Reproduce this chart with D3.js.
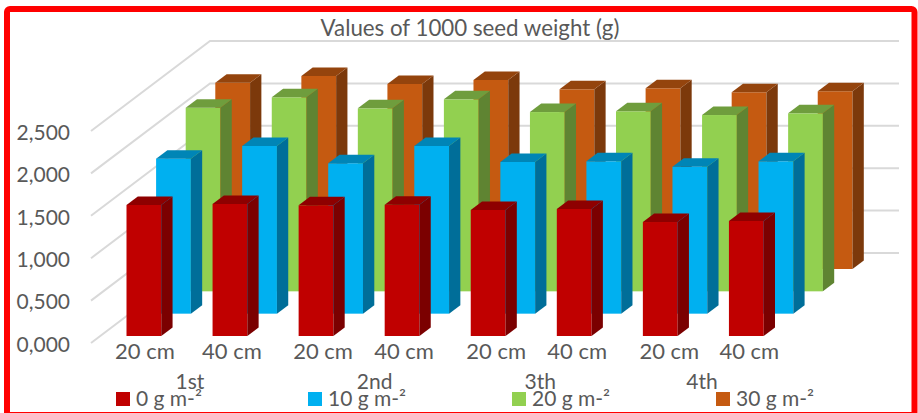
<!DOCTYPE html>
<html>
<head>
<meta charset="utf-8">
<script src="https://cdn.jsdelivr.net/npm/d3@7"></script>
<style>
  body { margin: 0; background: #fff; }
  svg { display: block; }
  text { font-family: Lato, sans-serif; fill: #595959; }
</style>
</head>
<body>
<div id="chart"></div>
<script>
const spacings = ['20 cm', '40 cm', '20 cm', '40 cm', '20 cm', '40 cm', '20 cm', '40 cm'];
const cuts = ['1st', '2nd', '3th', '4th'];
const seriesNames = ['0 g m-²', '10 g m-²', '20 g m-²', '30 g m-²'];
const dose0 = [1.545, 1.557, 1.541, 1.548, 1.486, 1.498, 1.344, 1.356];
const dose10 = [1.828, 1.978, 1.774, 1.978, 1.789, 1.797, 1.733, 1.797];
const dose20 = [2.165, 2.288, 2.158, 2.264, 2.114, 2.123, 2.079, 2.099];
const dose30 = [2.197, 2.276, 2.182, 2.229, 2.119, 2.131, 2.084, 2.096];
const yTicks = [0, 0.5, 1, 1.5, 2, 2.5];

// front, side, top shades per series
const shades = [
  ['#c00000', '#7b0000', '#8e0000'],
  ['#00b0f0', '#006e99', '#0085b6'],
  ['#92d050', '#5f8432', '#6f9d3d'],
  ['#c55a11', '#7c390b', '#94440d']
];
const seriesValues = [dose0, dose10, dose20, dose30];

const W = 918, H = 413;

let svg = d3.select('#chart')
  .append('svg')
  .attr('width', W)
  .attr('height', H);

// red frame, bottom edge runs off the page
svg.append('rect')
  .attr('x', 7).attr('y', 9)
  .attr('width', 907.5).attr('height', 406)
  .attr('rx', 3)
  .attr('fill', '#fff')
  .attr('stroke', '#ff0000')
  .attr('stroke-width', 6);

let y = d3.scaleLinear().domain([0, 2.5]).range([343, 131]);

// 8 bars of the front row
let x = d3.scaleBand()
  .domain(d3.range(spacings.length))
  .range([126.5, 763.7])
  .paddingInner(0.596)
  .paddingOuter(0);

// the floor depth: each series steps back and up
let depthX = d3.scalePoint().domain(d3.range(4)).range([0, 88.8]);
let depthY = d3.scalePoint().domain(d3.range(4)).range([0, -67]);
let frontOffset = -7;
let sideX = 11.3, sideY = -8.5;
let wallX = 119, wallY = -90, wallLeft = 91, wallRight = 899;

let grid = svg.append('g')
  .attr('fill', 'none')
  .attr('stroke', '#d9d9d9')
  .attr('stroke-width', 2);

grid.selectAll('path')
  .data(yTicks)
  .enter()
  .append('path')
  .attr('d', d => `M${wallLeft},${y(d)}L${wallLeft + wallX},${y(d) + wallY}H${wallRight}`);

// back series first so the front ones paint over
let rows = svg.selectAll('.row')
  .data(d3.range(4).reverse())
  .enter()
  .append('g')
  .attr('class', 'row');

let bar = rows.selectAll('.bar')
  .data(s => seriesValues[s].map((v, i) => ({ s, i, v })))
  .enter()
  .append('g')
  .attr('class', 'bar');

let bw = x.bandwidth();
let barLeft = d => x(d.i) + depthX(d.s);
let barBase = d => y(0) + frontOffset + depthY(d.s);
let barTop = d => barBase(d) - (y(0) - y(d.v));

bar.append('rect')
  .attr('x', barLeft)
  .attr('y', barTop)
  .attr('width', bw)
  .attr('height', d => barBase(d) - barTop(d))
  .attr('fill', d => shades[d.s][0]);

bar.append('path')
  .attr('d', d => `M${barLeft(d) + bw},${barTop(d)}l${sideX},${sideY}V${barBase(d) + sideY}l${-sideX},${-sideY}Z`)
  .attr('fill', d => shades[d.s][1]);

bar.append('path')
  .attr('d', d => `M${barLeft(d)},${barTop(d)}l${sideX},${sideY}h${bw}l${-sideX},${-sideY}Z`)
  .attr('fill', d => shades[d.s][2]);

// value axis, decimal comma
let yAxis = svg.append('g')
  .attr('transform', 'translate(73,1.5)')
  .call(d3.axisLeft(y)
    .tickValues(yTicks)
    .tickSize(0)
    .tickFormat(d => d3.format('.3f')(d).replace('.', ',')));
yAxis.select('.domain').remove();
yAxis.selectAll('text').attr('fill', null).style('font-size', '21px');

// spacing labels were placed by hand in the original, hence the nudges
let labelNudge = [1, 2, 7, 2, 8, 3, 9, 3];
let xAxis = svg.append('g')
  .attr('transform', 'translate(0,336)')
  .call(d3.axisBottom(x)
    .tickSize(0)
    .tickFormat(i => spacings[i]));
xAxis.select('.domain').remove();
xAxis.selectAll('text')
  .attr('fill', null)
  .attr('x', i => labelNudge[i])
  .attr('y', 7)
  .style('font-size', '22px');

// cut labels sit under the pairs, also uneven
let cutScale = d3.scalePoint().domain(cuts).range([190, 702]);
let cutNudge = [0, 14, 9, 0];
svg.selectAll('.cut')
  .data(cuts)
  .enter()
  .append('text')
  .attr('class', 'cut')
  .attr('x', (d, i) => cutScale(d) + cutNudge[i])
  .attr('y', 389)
  .attr('text-anchor', 'middle')
  .style('font-size', '21px')
  .text(d => d);

// legend
let legendX = d3.scaleOrdinal().domain(seriesNames).range([116, 308, 512, 716]);
let legend = svg.selectAll('.legend')
  .data(seriesNames)
  .enter()
  .append('g')
  .attr('class', 'legend')
  .attr('transform', d => `translate(${legendX(d)},392)`);

legend.append('rect')
  .attr('width', 14)
  .attr('height', 14)
  .attr('fill', (d, i) => shades[i][0]);

legend.append('text')
  .attr('x', 20)
  .attr('y', 14)
  .style('font-size', '21px')
  .text(d => d);

svg.append('text')
  .attr('x', 470)
  .attr('y', 36)
  .attr('text-anchor', 'middle')
  .style('font-size', '22.3px')
  .text('Values of 1000 seed weight (g)');
</script>
</body>
</html>
